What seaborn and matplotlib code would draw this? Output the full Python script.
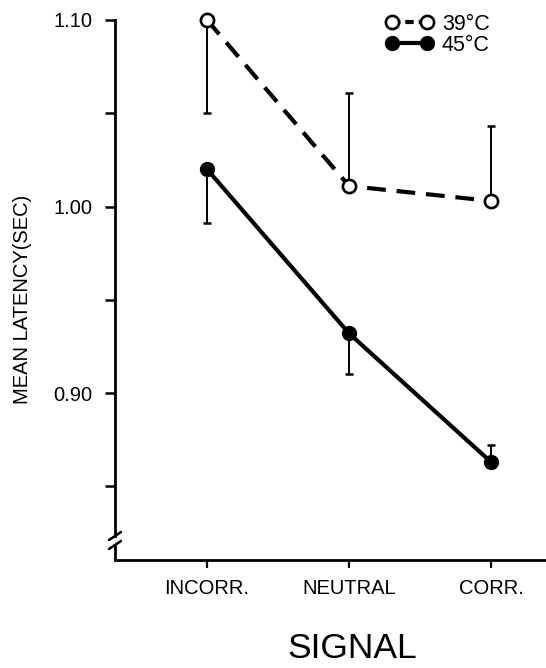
import numpy as np
import pandas as pd
import seaborn as sns
import matplotlib
matplotlib.use("Agg")
import matplotlib.pyplot as plt
from matplotlib.lines import Line2D
import matplotlib.transforms as mtransforms

# ---- data ----
categories = ["INCORR.", "NEUTRAL", "CORR."]
mean_39 = [1.100, 1.011, 1.003]
err_lo_39 = [0.050, 0.000, 0.000]
err_hi_39 = [0.000, 0.050, 0.040]
mean_45 = [1.020, 0.932, 0.863]
err_lo_45 = [0.029, 0.022, 0.000]
err_hi_45 = [0.000, 0.000, 0.009]
ytick_vals = [0.85, 0.90, 0.95, 1.00, 1.05, 1.10]
ytick_labels = ["", "0.90", "", "1.00", "", "1.10"]
legend_labels = ["39°C", "45°C"]

sns.set_theme(style="white")
plt.rcParams["font.family"] = ["Liberation Sans", "DejaVu Sans"]
plt.rcParams["text.color"] = "black"
plt.rcParams["axes.labelcolor"] = "black"
plt.rcParams["xtick.color"] = "black"
plt.rcParams["ytick.color"] = "black"

W, H = 546, 668
fig = plt.figure(figsize=(W / 100, H / 100), dpi=100)
ax = fig.add_axes([115 / W, (H - 560) / H, (W - 115) / W, 540 / H])

xpos = np.arange(len(categories))
df = pd.DataFrame({"x": np.concatenate([xpos, xpos]),
                   "y": mean_39 + mean_45,
                   "temp": [legend_labels[0]] * 3 + [legend_labels[1]] * 3})

# error bars (one-sided), behind markers
ax.errorbar(xpos, mean_39, yerr=[err_lo_39, err_hi_39], fmt="none",
            ecolor="black", elinewidth=1.4, capsize=3, capthick=1.8, zorder=1)
ax.errorbar(xpos, mean_45, yerr=[err_lo_45, err_hi_45], fmt="none",
            ecolor="black", elinewidth=1.4, capsize=3, capthick=1.8, zorder=1)

d39 = df[df.temp == legend_labels[0]]
d45 = df[df.temp == legend_labels[1]]
sns.lineplot(data=d39, x="x", y="y", ax=ax, color="black", lw=3,
             linestyle=(0, (4.5, 2.6)), marker="o", markersize=9.5,
             markerfacecolor="white", markeredgecolor="black",
             markeredgewidth=1.9, clip_on=False, zorder=3, legend=False)
sns.lineplot(data=d45, x="x", y="y", ax=ax, color="black", lw=3,
             marker="o", markersize=10, markerfacecolor="black",
             markeredgecolor="black", markeredgewidth=1.0,
             clip_on=False, zorder=3, legend=False)

ymin, ymax = 0.8105, 1.10
ax.set_ylim(ymin, ymax)
ax.set_xlim(-0.648, 2.387)

ax.set_yticks(ytick_vals)
ax.set_yticklabels(ytick_labels, fontsize=14.5)
ax.set_xticks(xpos)
ax.set_xticklabels(categories, fontsize=14.5)
ax.set_xlabel("")
ax.set_ylabel("")

ax.tick_params(axis="y", direction="out", length=7, width=1.8, pad=9.5,
               left=True, colors="black")
ax.tick_params(axis="x", direction="out", length=6, width=1.6, pad=8,
               bottom=True, colors="black")

for s in ["top", "right"]:
    ax.spines[s].set_visible(False)
ax.spines["left"].set_linewidth(2.0)
ax.spines["bottom"].set_linewidth(2.0)
ax.spines["left"].set_color("black")
ax.spines["bottom"].set_color("black")

# axis break on the y spine
gap_lo = ymin + (560 - 545) / 1865
gap_hi = ymin + (560 - 536) / 1865
ax.spines["left"].set_bounds(gap_hi, ymax)
trans = mtransforms.blended_transform_factory(ax.transAxes, ax.transData)
ax.plot([0, 0], [ymin, gap_lo], transform=trans, color="black", lw=2.0,
        clip_on=False, solid_capstyle="butt")
dx = 6 / (W - 115)
dy = 4 / 1865
for yc in (gap_hi, gap_lo):
    ax.plot([-dx, dx], [yc - dy, yc + dy], transform=trans, color="black",
            lw=1.8, clip_on=False)

# legend
handles = [
    Line2D([0], [0], color="black", lw=3, linestyle=(0, (2.0, 1.2)),
           marker="o", markersize=9.5, markerfacecolor="white",
           markeredgecolor="black", markeredgewidth=1.9),
    Line2D([0], [0], color="black", lw=3, marker="o", markersize=10,
           markerfacecolor="black", markeredgecolor="black"),
]
ax.legend(handles, legend_labels, loc="upper left",
          bbox_to_anchor=(386 / W, 1 - 14 / H), bbox_transform=fig.transFigure,
          frameon=False, fontsize=15.5, numpoints=2, handlelength=2.2,
          handletextpad=0.4, labelspacing=0.0, borderpad=0,
          borderaxespad=0)

fig.text(23 / W, 1 - 299 / H, "MEAN LATENCY(SEC)", rotation=90,
         ha="center", va="center", fontsize=14.5, color="black")
fig.text(352 / W, 1 - 649 / H, "SIGNAL", ha="center", va="center",
         fontsize=25.5, color="black")

fig.savefig("out.png", dpi=100, facecolor="white")
